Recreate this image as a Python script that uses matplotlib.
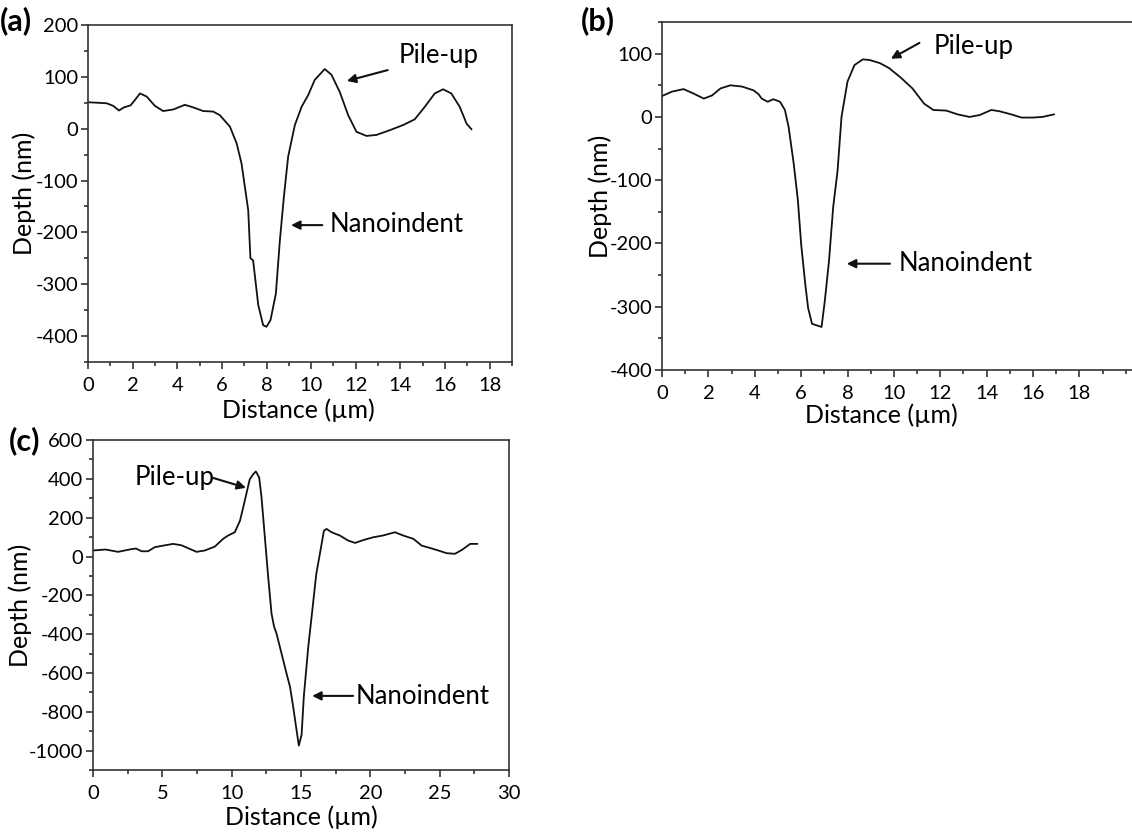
import matplotlib
matplotlib.use('Agg')
import matplotlib.pyplot as plt
from matplotlib.ticker import MultipleLocator, FixedLocator

plt.rcParams['font.family'] = ['Lato', 'DejaVu Sans']
plt.rcParams['axes.unicode_minus'] = False

# Panel (a) profile
dist_a = [0, 0.84, 1.13, 1.39, 1.61, 1.91, 2.1, 2.33, 2.63, 3.0, 3.37, 3.82, 4.34, 4.72,
          5.16, 5.61, 5.91, 6.36, 6.66, 6.88, 7.18, 7.28, 7.40, 7.63, 7.85, 8.0, 8.18,
          8.42, 8.6, 8.78, 8.97, 9.27, 9.57, 9.87, 10.16, 10.61, 10.91, 11.28, 11.66,
          12.03, 12.48, 12.93, 13.52, 14.12, 14.64, 15.09, 15.54, 15.91, 16.28, 16.66,
          16.96, 17.18]
depth_a = [51, 49, 44, 35, 41, 45, 55, 68, 62, 44, 34, 37, 46, 41,
           34, 33, 26, 4, -28, -67, -157, -250, -254, -340, -379, -382, -369,
           -318, -215, -131, -54, 7, 42, 65, 94, 115, 104, 71, 26,
           -6, -14, -12, -3, 7, 18, 42, 68, 76, 68, 42,
           10, -1]

# Panel (b) profile
dist_b = [0, 0.43, 0.93, 1.36, 1.8, 2.16, 2.52, 2.95, 3.45, 3.95, 4.16, 4.3, 4.56, 4.8,
          5.09, 5.3, 5.46, 5.68, 5.86, 6.0, 6.18, 6.3, 6.47, 6.88, 7.02, 7.2, 7.38,
          7.57, 7.74, 8.0, 8.3, 8.66, 8.95, 9.4, 9.8, 10.3, 10.8, 11.3, 11.7, 12.26,
          12.75, 13.26, 13.7, 14.2, 14.55, 15.06, 15.5, 16.0, 16.4, 16.9]
depth_b = [33, 40, 44, 37, 29, 34, 45, 50, 48, 42, 36, 29, 24, 28,
           24, 11, -16, -74, -132, -201, -265, -302, -327, -332, -291, -228, -143,
           -85, 0, 56, 82, 91, 90, 85, 77, 62, 45, 21, 11, 10,
           4, 0, 3, 11, 9, 4, -1, -1, 0, 4]

# Panel (c) profile
dist_c = [0, 0.91, 1.8, 2.77, 3.1, 3.5, 3.97, 4.45, 5.05, 5.77, 6.37, 6.98, 7.46, 8.06,
          8.78, 9.38, 9.74, 10.22, 10.6, 10.94, 11.3, 11.55, 11.74, 11.98, 12.15, 12.39,
          12.63, 12.87, 13.05, 13.23, 13.59, 13.95, 14.2, 14.43, 14.67, 14.84, 15.04, 15.2,
          15.52, 15.76, 16.1, 16.4, 16.65, 16.84, 17.2, 17.8, 18.4, 18.9, 19.5, 20.2,
          20.9, 21.77, 22.37, 23.1, 23.7, 24.3, 24.9, 25.5, 26.1, 26.6, 27.2, 27.7]
depth_c = [31, 36, 24, 38, 41, 27, 27, 48, 56, 65, 58, 39, 24, 31,
           51, 91, 108, 125, 185, 287, 398, 424, 438, 407, 304, 99,
           -106, -294, -360, -397, -499, -602, -670, -773, -892, -974, -918, -721,
           -465, -311, -89, 31, 133, 142, 125, 108, 82, 70, 85, 99,
           108, 125, 108, 91, 56, 44, 31, 17, 14, 34, 65, 65]

x_ticks_ab = [0, 2, 4, 6, 8, 10, 12, 14, 16, 18]

panels = [
    dict(tag='(a)', x=dist_a, y=depth_a, rect=[0.0777, 0.568, 0.3746, 0.4022],
         xlim=(0, 19), ylim=(-450, 200), xmaj=x_ticks_ab, xmin=1, ymaj=100, ymin=50,
         pile=((13.9, 142), (13.43, 113), (11.6, 92)),
         nano=((10.84, -185), (10.5, -186), (9.1, -186)),
         tagpos=(0.0, 0.975), ylab=(0.021, 0.769), xlab=(0.264, 0.511)),
    dict(tag='(b)', x=dist_b, y=depth_b, rect=[0.5848, 0.5585, 0.420, 0.4152],
         xlim=(0, 20.5), ylim=(-400, 150), xmaj=x_ticks_ab, xmin=1, ymaj=100, ymin=50,
         pile=((11.7, 111), (11.1, 117), (9.87, 92)),
         nano=((10.2, -232), (9.83, -232), (7.97, -232)),
         tagpos=(0.513, 0.975), ylab=(0.53, 0.766), xlab=(0.779, 0.504)),
    dict(tag='(c)', x=dist_c, y=depth_c, rect=[0.0822, 0.0811, 0.3675, 0.3938],
         xlim=(0, 30), ylim=(-1100, 600), xmaj=[0, 5, 10, 15, 20, 25, 30], xmin=2.5,
         ymaj=200, ymin=100,
         pile=((3.03, 405), (8.65, 405), (11.03, 354)),
         nano=((18.9, -723), (18.75, -718), (15.8, -718)),
         tagpos=(0.008, 0.474), ylab=(0.018, 0.278), xlab=(0.266, 0.025)),
]

fig = plt.figure(figsize=(11.32, 8.38), dpi=100)

for p in panels:
    ax = fig.add_axes(p['rect'])
    ax.plot(p['x'], p['y'], color='#111111', lw=1.3)
    ax.set_xlim(*p['xlim'])
    ax.set_ylim(*p['ylim'])
    ax.xaxis.set_major_locator(FixedLocator(p['xmaj']))
    ax.xaxis.set_minor_locator(MultipleLocator(p['xmin']))
    ax.yaxis.set_major_locator(MultipleLocator(p['ymaj']))
    ax.yaxis.set_minor_locator(MultipleLocator(p['ymin']))
    ax.tick_params(which='both', direction='out', top=False, right=False,
                   color='#333333', width=1.2)
    ax.tick_params(which='major', length=5, labelsize=14.5)
    ax.tick_params(axis='x', which='major', pad=6)
    ax.tick_params(axis='y', which='major', pad=2)
    ax.tick_params(which='minor', length=3)
    for s in ax.spines.values():
        s.set_color('#333333')
        s.set_linewidth(1.2)

    # annotations
    (tx, ty), (ax0, ay0), (hx, hy) = p['pile']
    ax.text(tx, ty, 'Pile-up', fontsize=18.5, va='center', ha='left')
    ax.annotate('', xy=(hx, hy), xytext=(ax0, ay0),
                arrowprops=dict(arrowstyle='-|>', color='#111111', lw=1.5,
                                mutation_scale=13, shrinkA=0, shrinkB=0))
    (tx, ty), (ax0, ay0), (hx, hy) = p['nano']
    ax.text(tx, ty, 'Nanoindent', fontsize=18.5, va='center', ha='left')
    ax.annotate('', xy=(hx, hy), xytext=(ax0, ay0),
                arrowprops=dict(arrowstyle='-|>', color='#111111', lw=1.5,
                                mutation_scale=13, shrinkA=0, shrinkB=0))

    fig.text(p['ylab'][0], p['ylab'][1], 'Depth (nm)', rotation=90,
             fontsize=18, va='center', ha='center')
    fig.text(p['xlab'][0], p['xlab'][1], 'Distance (µm)', fontsize=18,
             va='center', ha='center')
    fig.text(p['tagpos'][0], p['tagpos'][1], p['tag'], fontsize=22,
             fontweight='bold', va='center', ha='left')

fig.savefig('out.png', dpi=100)
